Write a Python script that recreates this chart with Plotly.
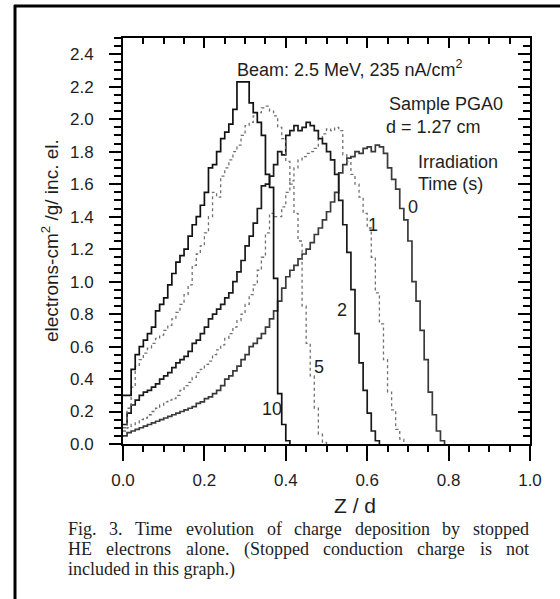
import plotly.graph_objects as go

# ---------------- data ----------------
z_bins = [round(0.01 * i, 2) for i in range(82)]  # bin starts in Z/d

curve_0 = [0.05, 0.07, 0.08, 0.09, 0.10, 0.11, 0.12, 0.13, 0.14, 0.15,
           0.16, 0.17, 0.18, 0.19, 0.20, 0.21, 0.22, 0.23, 0.25, 0.26,
           0.28, 0.29, 0.31, 0.33, 0.36, 0.40, 0.42, 0.45, 0.48, 0.52,
           0.55, 0.60, 0.62, 0.65, 0.68, 0.72, 0.77, 0.82, 0.88, 0.96,
           1.03, 1.07, 1.10, 1.14, 1.17, 1.20, 1.24, 1.29, 1.33, 1.38,
           1.43, 1.49, 1.55, 1.67, 1.72, 1.76, 1.77, 1.80, 1.79, 1.82,
           1.83, 1.80, 1.84, 1.83, 1.79, 1.70, 1.63, 1.57, 1.45, 1.38,
           1.25, 1.00, 0.88, 0.70, 0.52, 0.32, 0.18, 0.08, 0.02, 0.00]

curve_1 = [0.08, 0.10, 0.12, 0.13, 0.15, 0.16, 0.18, 0.20, 0.22, 0.24,
           0.26, 0.27, 0.28, 0.30, 0.33, 0.36, 0.38, 0.41, 0.44, 0.46,
           0.49, 0.51, 0.55, 0.58, 0.61, 0.65, 0.68, 0.72, 0.76, 0.80,
           0.86, 0.92, 0.98, 1.07, 1.15, 1.30, 1.42, 1.40, 1.40, 1.46,
           1.55, 1.62, 1.70, 1.75, 1.77, 1.79, 1.80, 1.82, 1.88, 1.91,
           1.94, 1.93, 1.95, 1.93, 1.78, 1.74, 1.66, 1.60, 1.52, 1.42,
           1.33, 1.15, 0.93, 0.74, 0.52, 0.32, 0.21, 0.09, 0.03, 0.00]

curve_2 = [0.12, 0.19, 0.24, 0.27, 0.30, 0.32, 0.33, 0.35, 0.37, 0.40,
           0.42, 0.44, 0.47, 0.50, 0.52, 0.54, 0.57, 0.62, 0.64, 0.68,
           0.72, 0.77, 0.80, 0.83, 0.86, 0.90, 0.93, 1.00, 1.06, 1.13,
           1.22, 1.28, 1.36, 1.45, 1.59, 1.60, 1.65, 1.72, 1.80, 1.78,
           1.90, 1.93, 1.96, 1.93, 1.95, 1.98, 1.96, 1.93, 1.88, 1.85,
           1.80, 1.75, 1.66, 1.50, 1.35, 1.18, 0.95, 0.68, 0.50, 0.33,
           0.19, 0.08, 0.02, 0.00]

curve_5 = [0.10, 0.22, 0.35, 0.48, 0.52, 0.56, 0.59, 0.62, 0.65, 0.67,
           0.70, 0.73, 0.77, 0.81, 0.86, 0.92, 0.98, 1.10, 1.17, 1.22,
           1.30, 1.40, 1.55, 1.52, 1.65, 1.70, 1.75, 1.80, 1.84, 1.90,
           1.96, 1.98, 2.02, 2.04, 2.07, 2.08, 2.05, 2.02, 1.95, 1.88,
           1.74, 1.60, 1.42, 1.25, 0.85, 0.62, 0.42, 0.22, 0.06, 0.01,
           0.00]

curve_10 = [0.30, 0.30, 0.46, 0.55, 0.60, 0.64, 0.68, 0.72, 0.82, 0.86,
            0.90, 0.98, 1.05, 1.12, 1.16, 1.20, 1.28, 1.35, 1.40, 1.47,
            1.55, 1.70, 1.72, 1.80, 1.88, 1.92, 1.97, 2.06, 2.23, 2.23,
            2.23, 2.10, 2.04, 1.98, 1.90, 1.66, 1.58, 1.02, 0.31, 0.12,
            0.02, 0.00]

curve_names = ["0", "1", "2", "5", "10"]
label_pos_x = [0.7125, 0.614, 0.538, 0.4816, 0.366]
label_pos_y = [1.457, 1.346, 0.827, 0.475, 0.216]

x_ticks = [0.0, 0.2, 0.4, 0.6, 0.8, 1.0]
y_ticks = [0.0, 0.2, 0.4, 0.6, 0.8, 1.0, 1.2, 1.4, 1.6, 1.8, 2.0, 2.2, 2.4]

caption_1 = "Fig. 3. Time evolution of charge deposition by stopped"
caption_2 = "HE electrons alone. (Stopped conduction charge is not"
caption_3 = "included in this graph.)"

# ---------------- layout helpers ----------------
W, H = 560, 599
L, R, T, B = 123, 30, 38, 155
PW, PH = W - L - R, H - T - B


def px(xp):
    return (xp - L) / PW


def py(yp):
    return (H - B - yp) / PH


SANS = "Liberation Sans, Arial, sans-serif"
SERIF = "Liberation Serif, Times New Roman, serif"
INK = "#1e1e1e"

fig = go.Figure()

styles = [
    dict(color="#3a3a3a", width=1.7, dash="solid"),
    dict(color="#707070", width=1.3, dash="dot"),
    dict(color="#1a1a1a", width=1.7, dash="solid"),
    dict(color="#707070", width=1.3, dash="dot"),
    dict(color="#111111", width=1.7, dash="solid"),
]
for name, vals, st in zip(curve_names, [curve_0, curve_1, curve_2, curve_5, curve_10], styles):
    fig.add_trace(go.Scatter(x=z_bins[:len(vals)], y=vals, mode="lines",
                             line=dict(shape="hv", **st), name=name,
                             showlegend=False, hoverinfo="skip"))

# dummy traces to activate mirrored axes (top and right, inward ticks)
fig.add_trace(go.Scatter(x=[None], y=[None], xaxis="x2", yaxis="y", showlegend=False))
fig.add_trace(go.Scatter(x=[None], y=[None], xaxis="x", yaxis="y2", showlegend=False))

axis_common = dict(showgrid=False, zeroline=False, showline=True, linewidth=2,
                   linecolor="black", tickcolor="black")

fig.update_layout(
    width=W, height=H,
    margin=dict(l=L, r=R, t=T, b=B, pad=0),
    paper_bgcolor="white", plot_bgcolor="white",
    font=dict(family=SANS, color=INK),
    showlegend=False,
    xaxis=dict(range=[0, 1.0], tickvals=x_ticks, tickformat=".1f",
               ticks="outside", ticklen=15, tickwidth=2,
               ticklabelstandoff=5,
               tickfont=dict(family=SANS, size=17, color=INK),
               minor=dict(dtick=0.05, tick0=0, ticks="outside", ticklen=6,
                          tickwidth=1.5, tickcolor="black", showgrid=False),
               **axis_common),
    xaxis2=dict(range=[0, 1.0], overlaying="x", side="top", anchor="y",
                tickvals=x_ticks, showticklabels=False,
                ticks="inside", ticklen=10, tickwidth=2,
                minor=dict(dtick=0.05, tick0=0, ticks="inside", ticklen=6,
                           tickwidth=1.5, tickcolor="black", showgrid=False),
                **axis_common),
    yaxis=dict(range=[0, 2.5], tickvals=y_ticks, tickformat=".1f",
               ticks="outside", ticklen=12, tickwidth=2,
               ticklabelstandoff=12,
               tickfont=dict(family=SANS, size=17, color=INK),
               minor=dict(dtick=0.05, tick0=0, ticks="outside", ticklen=7,
                          tickwidth=1.5, tickcolor="black", showgrid=False),
               **axis_common),
    yaxis2=dict(range=[0, 2.5], overlaying="y", side="right", anchor="x",
                tickvals=y_ticks, showticklabels=False,
                ticks="inside", ticklen=12, tickwidth=2,
                minor=dict(dtick=0.05, tick0=0, ticks="inside", ticklen=7,
                           tickwidth=1.5, tickcolor="black", showgrid=False),
                **axis_common),
)

# curve labels (data coordinates)
for name, lx, ly in zip(curve_names, label_pos_x, label_pos_y):
    fig.add_annotation(x=lx, y=ly, xref="x", yref="y", text=name, showarrow=False,
                       font=dict(family=SANS, size=18, color=INK),
                       xanchor="center", yanchor="middle", borderpad=0)

# in-plot texts (paper coordinates)
texts = [
    ("Beam: 2.5 MeV, 235 nA/cm<sup>2</sup>", 236, 69),
    ("Sample PGA0", 388, 104),
    ("d = 1.27 cm", 385, 127),
    ("Irradiation", 417, 162),
    ("Time (s)", 417, 184),
]
for t, xl, yc in texts:
    fig.add_annotation(x=px(xl), y=py(yc), xref="paper", yref="paper", text=t,
                       showarrow=False, xanchor="left", yanchor="middle",
                       font=dict(family=SANS, size=18, color=INK), borderpad=0)

# axis titles
fig.add_annotation(x=px(355), y=py(506), xref="paper", yref="paper", text="Z / d",
                   showarrow=False, xanchor="center", yanchor="middle",
                   font=dict(family=SANS, size=21, color=INK), borderpad=0)
fig.add_annotation(x=px(50), y=py(241), xref="paper", yref="paper",
                   text="electrons-cm<sup>2</sup> /g/ inc. el.", textangle=-90,
                   showarrow=False, xanchor="center", yanchor="middle",
                   font=dict(family=SANS, size=19, color=INK), borderpad=0)

# caption (justified lines)
TIMES = {" ": 250, "(": 333, ")": 333, ".": 250, ",": 250, "3": 500,
         "E": 611, "F": 556, "H": 722, "S": 556, "T": 611,
         "a": 444, "b": 500, "c": 444, "d": 500, "e": 444, "f": 333, "g": 500,
         "h": 500, "i": 278, "l": 278, "m": 778, "n": 500, "o": 500, "p": 500,
         "r": 333, "s": 389, "t": 278, "u": 500, "v": 500, "y": 500}
CAP_SIZE = 18


def tw(s):
    return sum(TIMES.get(c, 500) for c in s) / 1000.0 * CAP_SIZE


def add_justified(line, yc, left=67, right=528):
    words = line.split(" ")
    total = sum(tw(w) for w in words)
    gap = (right - left - total) / (len(words) - 1)
    x = left
    for w in words:
        fig.add_annotation(x=px(x), y=py(yc), xref="paper", yref="paper", text=w,
                           showarrow=False, xanchor="left", yanchor="middle",
                           font=dict(family=SERIF, size=CAP_SIZE, color=INK),
                           borderpad=0)
        x += tw(w) + gap


add_justified(caption_1, 529)
add_justified(caption_2, 549)
fig.add_annotation(x=px(67), y=py(569), xref="paper", yref="paper", text=caption_3,
                   showarrow=False, xanchor="left", yanchor="middle",
                   font=dict(family=SERIF, size=CAP_SIZE, color=INK), borderpad=0)

# page frame (left and top border lines)
fig.add_shape(type="line", xref="paper", yref="paper",
              x0=px(15), x1=px(15), y0=py(5), y1=py(H + 5),
              line=dict(color="black", width=3))
fig.add_shape(type="line", xref="paper", yref="paper",
              x0=px(14), x1=px(W + 5), y0=py(6), y1=py(6),
              line=dict(color="black", width=3))

fig.write_html("out.html",
               config={"displayModeBar": False},
               post_script="document.body.style.margin='0px';document.body.style.overflow='hidden';")
